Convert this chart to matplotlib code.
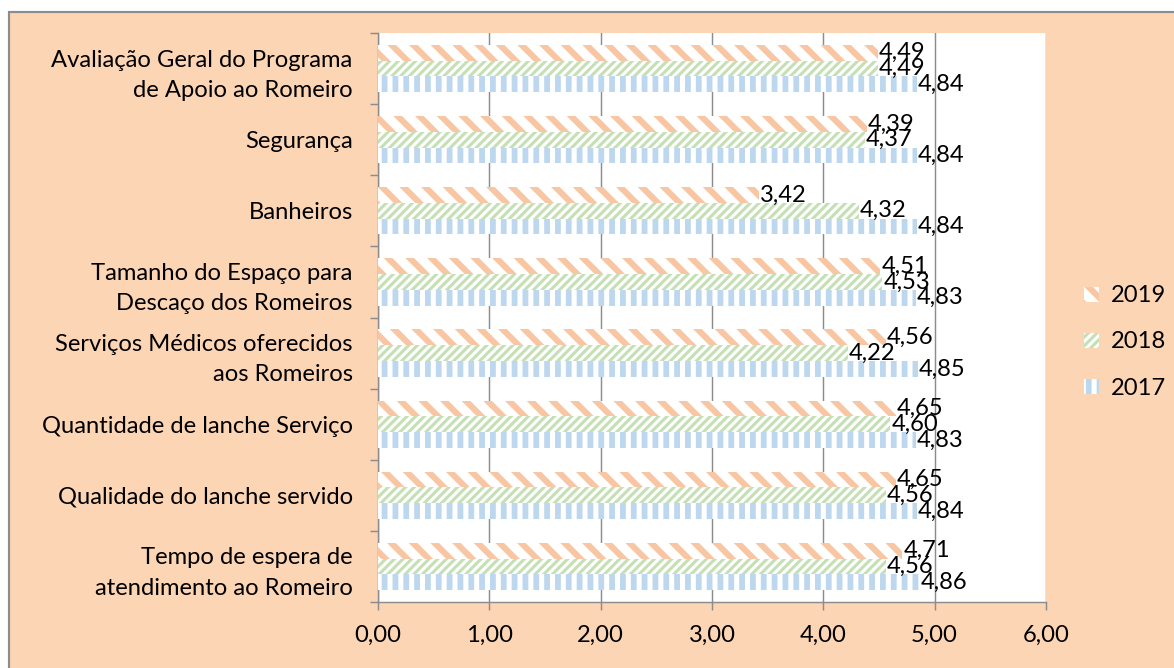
import matplotlib
matplotlib.use("Agg")
import numpy as np
import matplotlib.pyplot as plt
from matplotlib.patches import Rectangle

plt.rcParams['font.family'] = ['Lato', 'DejaVu Sans']

categories = [
    "Tempo de espera de\natendimento ao Romeiro",
    "Qualidade do lanche servido",
    "Quantidade de lanche Serviço",
    "Serviços Médicos oferecidos\naos Romeiros",
    "Tamanho do Espaço para\nDescaço dos Romeiros",
    "Banheiros",
    "Segurança",
    "Avaliação Geral do Programa\nde Apoio ao Romeiro",
]
v2019 = [4.71, 4.65, 4.65, 4.56, 4.51, 3.42, 4.39, 4.49]
v2018 = [4.56, 4.56, 4.60, 4.22, 4.53, 4.32, 4.37, 4.49]
v2017 = [4.86, 4.84, 4.83, 4.85, 4.83, 4.84, 4.84, 4.84]
xticks = [0, 1, 2, 3, 4, 5, 6]

DPI = 130
W, H = 1174, 668
fig = plt.figure(figsize=(W / DPI, H / DPI), dpi=DPI, facecolor="white")


def with_hatch_lw(artist, lw):
    # hatch linewidth is read from rcParams, so set it around each draw
    if hasattr(artist, "set_hatch_linewidth"):
        artist.set_hatch_linewidth(lw)
    orig = artist.draw

    def draw(renderer):
        with plt.rc_context({'hatch.linewidth': lw}):
            orig(renderer)
    artist.draw = draw


# peach chart-area background with grey border
bg = Rectangle((9 / W, -0.05), 1.1, 1 - 12 / H + 0.05, transform=fig.transFigure,
               facecolor="#FCD5B5", edgecolor="#8C8C8C", linewidth=1.2, zorder=-10)
fig.patches.append(bg)

ax = fig.add_axes([378 / W, 1 - 602 / H, (1046 - 378) / W, (602 - 33) / H])
ax.set_facecolor("white")

y = np.arange(len(categories))
h = 0.222
series = [
    ("2019", v2019, h, "#F8C6A3", "\\\\", 3.4),
    ("2018", v2018, 0, "#C5E0B4", "/////", 1.7),
    ("2017", v2017, -h, "#BDD7EE", "||", 3.2),
]
fs = 13.2
hatch_lws = {}
for name, vals, off, col, hatch, hlw in series:
    hatch_lws[name] = hlw
    with plt.rc_context({'hatch.linewidth': hlw}):
        bars = ax.barh(y + off, vals, height=h, facecolor="white", edgecolor=col,
                       hatch=hatch, linewidth=0, label=name, zorder=3)
    for b in bars:
        with_hatch_lw(b, hlw)
    for yi, v in zip(y + off, vals):
        ax.text(v + 0.01, yi, f"{v:.2f}".replace(".", ","), va="center", ha="left",
                fontsize=fs, color="black", zorder=5)

ax.set_xlim(0, 6)
ax.set_ylim(-0.5, len(categories) - 0.5)
ax.set_xticks(xticks)
ax.set_xticklabels([f"{t:.2f}".replace(".", ",") for t in xticks], fontsize=fs)
ax.set_yticks(y)
ax.set_yticklabels(categories, fontsize=fs, linespacing=1.55)
ax.set_yticks(np.arange(-0.5, len(categories), 1), minor=True)
ax.tick_params(axis="y", which="major", length=0, pad=14)
ax.tick_params(axis="y", which="minor", length=4.4, width=0.8, color="#8C8C8C", direction="out")
ax.tick_params(axis="x", which="major", length=4.4, width=0.8, color="#8C8C8C", direction="out", pad=8)
ax.grid(axis="x", color="#8C8C8C", linewidth=0.8, zorder=0)
ax.set_axisbelow(True)
for s in ["top", "right"]:
    ax.spines[s].set_visible(False)
for s in ["left", "bottom"]:
    ax.spines[s].set_color("#8C8C8C")
    ax.spines[s].set_linewidth(0.8)

leg = fig.legend(loc="center left", bbox_to_anchor=(1063 / W, 1 - 342 / H), frameon=False,
                 fontsize=fs, handlelength=0.6, handleheight=0.6, handletextpad=0.5,
                 labelspacing=1.05)
for p, t in zip(leg.get_patches(), leg.get_texts()):
    with_hatch_lw(p, hatch_lws[t.get_text()])

fig.savefig("out.png", dpi=DPI, facecolor=fig.get_facecolor())
